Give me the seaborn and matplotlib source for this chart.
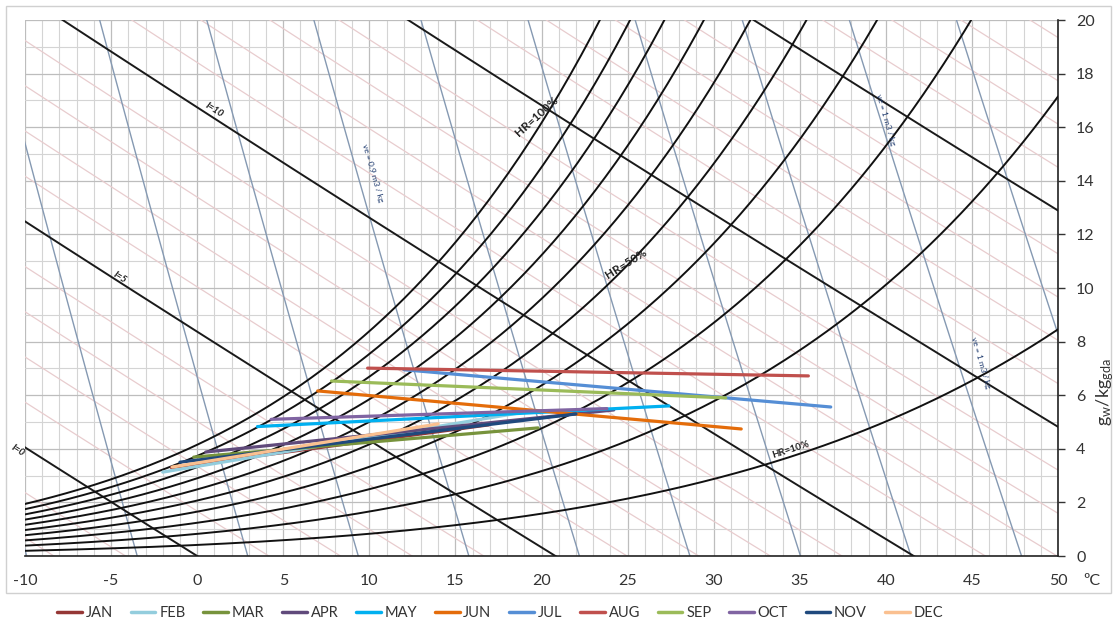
import numpy as np
import pandas as pd
import matplotlib
matplotlib.use("Agg")
import matplotlib.pyplot as plt
import seaborn as sns
from matplotlib.patches import Rectangle
from matplotlib.lines import Line2D
from matplotlib.ticker import MultipleLocator

# ---------------- data ----------------
months = ["JAN", "FEB", "MAR", "APR", "MAY", "JUN",
          "JUL", "AUG", "SEP", "OCT", "NOV", "DEC"]
colors = ["#953735", "#93CDDD", "#77933C", "#604A7B", "#00B0F0", "#E46C0A",
          "#558ED5", "#C0504D", "#9BBB59", "#8064A2", "#1F497D", "#FAC090"]
# start point (min temperature) and end point (max temperature) of each month
t_start = [-1.5, -2.0, -0.2, 0.5, 3.5, 7.0, 12.0, 9.9, 7.8, 4.3, -1.0, -1.45]
w_start = [3.30, 3.13, 3.69, 3.88, 4.83, 6.16, 6.95, 7.01, 6.53, 5.10, 3.50, 3.32]
t_end = [16.9, 19.0, 19.8, 24.2, 27.4, 31.6, 36.8, 35.5, 30.7, 23.8, 22.0, 14.0]
w_end = [4.89, 5.37, 4.78, 5.45, 5.60, 4.74, 5.56, 6.72, 5.90, 5.50, 5.30, 4.93]

# psychrometric background definition
pressure_kpa = 92.15
rh_levels = [10, 20, 30, 40, 50, 60, 70, 80, 90, 100]
enthalpy_kcal = list(range(-3, 26))
enthalpy_major = [0, 5, 10, 15, 20]
volume_levels = [0.80, 0.82, 0.84, 0.86, 0.88, 0.90, 0.92, 0.94, 0.96, 0.98, 1.00, 1.02, 1.04]
x_ticks = list(range(-10, 51, 5))
y_ticks = list(range(0, 21, 2))

# ---------------- style ----------------
sns.set_theme(style="white")
plt.rcParams['font.family'] = ['Lato', 'DejaVu Sans']

W, H = 1118, 623
fig = plt.figure(figsize=(W / 100, H / 100), dpi=100)
ax = fig.add_axes([25 / W, 1 - 556 / H, 1033 / W, 536 / H])
ax.set_xlim(-10, 50)
ax.set_ylim(0, 20)

# grid
ax.xaxis.set_major_locator(MultipleLocator(5))
ax.xaxis.set_minor_locator(MultipleLocator(1))
ax.yaxis.set_major_locator(MultipleLocator(2))
ax.yaxis.set_minor_locator(MultipleLocator(1))
ax.grid(which='minor', color='#D4D4D4', lw=0.8, zorder=0)
ax.grid(which='major', color='#BDBDBD', lw=0.9, zorder=0)
ax.set_axisbelow(True)

# enthalpy lines (kcal/kg)
tt = np.linspace(-12, 52, 200)
for I in enthalpy_kcal:
    h = I * 4.1868
    w = (h - 1.006 * tt) / (2501 + 1.86 * tt) * 1000
    if I in enthalpy_major:
        ax.plot(tt, w, color='#1a1a1a', lw=1.4, zorder=3)
    else:
        ax.plot(tt, w, color='#E8CCCE', lw=0.9, zorder=1)

# specific volume lines
ww = np.linspace(0, 21, 50)
for v in volume_levels:
    tv = v * pressure_kpa / (0.287042 * (1 + 1.6078 * ww / 1000)) - 273.15
    ax.plot(tv, ww, color='#8599B2', lw=1.0, zorder=2)

# relative humidity curves
tr = np.linspace(-10, 50, 300)
pws = 0.61094 * np.exp(17.625 * tr / (tr + 243.04))
for rh in rh_levels:
    pw = rh / 100 * pws
    w = 622 * pw / (pressure_kpa - pw)
    ax.plot(tr, w, color='#111111', lw=1.4, zorder=3)

# monthly data lines
df = pd.DataFrame({
    'month': [m for m in months for _ in range(2)],
    'T': [v for pair in zip(t_start, t_end) for v in pair],
    'w': [v for pair in zip(w_start, w_end) for v in pair],
})
sns.lineplot(data=df, x='T', y='w', hue='month', hue_order=months,
             palette=dict(zip(months, colors)), lw=2.3, ax=ax,
             legend=False, estimator=None, sort=False, zorder=5)
ax.set_xlabel('')
ax.set_ylabel('')

# annotations on background lines
ax.text(19.7, 16.4, "HR=100%", rotation=42, fontsize=8.5, fontweight='bold',
        ha='center', va='center', color='#222222', zorder=6)
ax.text(24.9, 10.9, "HR=50%", rotation=32, fontsize=8.5, fontweight='bold',
        ha='center', va='center', color='#222222', zorder=6)
ax.text(34.5, 3.95, "HR=10%", rotation=18, fontsize=7, fontweight='bold',
        ha='center', va='center', color='#222222', zorder=6)
ax.text(1.0, 16.65, "I=10", rotation=-32, fontsize=7, fontstyle='italic',
        fontweight='bold', ha='center', va='center', color='#222222', zorder=6)
ax.text(-4.5, 10.4, "I=5", rotation=-32, fontsize=7, fontstyle='italic',
        fontweight='bold', ha='center', va='center', color='#222222', zorder=6)
ax.text(-10.4, 3.95, "I=0", rotation=-32, fontsize=7, fontstyle='italic',
        fontweight='bold', ha='center', va='center', color='#222222', zorder=6,
        clip_on=False)
ax.text(10.2, 14.3, "ve = 0.9 m3 / kg", rotation=-74, fontsize=6,
        ha='center', va='center', color='#1F3B6F', zorder=6)
ax.text(40.0, 16.3, "ve = 1 m3 / kg", rotation=-74, fontsize=6,
        ha='center', va='center', color='#1F3B6F', zorder=6)
ax.text(45.5, 7.2, "ve = 1 m3 / kg", rotation=-74, fontsize=6,
        ha='center', va='center', color='#1F3B6F', zorder=6)

# axes styling
ax.set_xticks(x_ticks)
ax.set_yticks(y_ticks)
ax.set_xticklabels([str(x) for x in x_ticks])
ax.set_yticklabels([str(y) for y in y_ticks])
ax.yaxis.tick_right()
ax.tick_params(which='major', axis='both', direction='out', length=5,
               width=1, color='#333333', labelsize=11.5, labelcolor='#333333')
ax.tick_params(which='major', axis='x', pad=8)
ax.tick_params(which='major', axis='y', pad=8)
ax.tick_params(which='minor', length=0)
for s in ['top', 'left']:
    ax.spines[s].set_visible(False)
for s in ['right', 'bottom']:
    ax.spines[s].set_color('#222222')
    ax.spines[s].set_linewidth(1.2)

fig.text(1083 / W, 1 - 581 / H, "ºC", fontsize=11.5, va='center', ha='left',
         color='#333333')
fig.text(1105 / W, 1 - 392 / H, r"$\mathregular{g_w/kg_{gda}}$", rotation=90,
         fontsize=13, va='center', ha='center', color='#333333')

# legend
handles = [Line2D([0], [0], color=c, lw=2.5) for c in colors]
fig.legend(handles, months, loc='center', bbox_to_anchor=(500 / W, 1 - 613 / H),
           ncol=12, frameon=False, fontsize=10.5, handlelength=1.7,
           handletextpad=0.25, columnspacing=1.22, labelcolor='#333333')

# outer border
fig.patches.append(Rectangle((6 / W, 1 - 593 / H), (1111 - 6) / W, (593 - 6) / H,
                             transform=fig.transFigure, fill=False,
                             ec='#D0D0D0', lw=1.0))

fig.savefig("out.png", dpi=100)
